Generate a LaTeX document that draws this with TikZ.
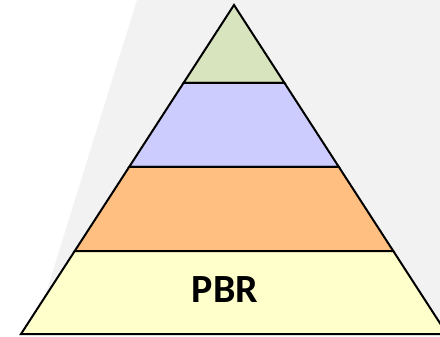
\documentclass[tikz,border=0pt]{standalone}
\usepackage{fontspec}
\setmainfont{Carlito}
\usetikzlibrary{calc}

\definecolor{bgGrey}{HTML}{F2F2F2}
\definecolor{topGreen}{HTML}{D7E4BD}
\definecolor{midBlue}{HTML}{CCCCFF}
\definecolor{lowOrange}{HTML}{FFBF80}
\definecolor{baseYellow}{HTML}{FFFFCC}

\begin{document}
\begin{tikzpicture}[x=1pt,y=-1pt,layer/.style={draw=black,line width=2pt,line join=miter}]

\useasboundingbox (0,0) rectangle (440,337);
\clip (0,0) rectangle (440,337);

\fill [bgGrey] (137,0) -- (440,0) -- (440,335) -- (33,335) -- cycle;

\coordinate (apex) at (234,5);
\coordinate (bl) at (21,334);
\coordinate (br) at (447,334);

\foreach \t [count=\i] in {0,0.237,0.492,0.748,1} {
	\coordinate (l\i) at ($(apex)!\t!(bl)$);
	\coordinate (r\i) at ($(apex)!\t!(br)$);
}

\foreach \i/\c in {1/topGreen,2/midBlue,3/lowOrange,4/baseYellow} {
	\pgfmathtruncatemacro{\j}{\i + 1};
	\filldraw [layer,fill=\c] (l\i) -- (l\j) -- (r\j) -- (r\i) -- cycle;
}

\node (pbr) at (225,290) {\fontsize{40}{48}\selectfont\bfseries PBR};

\end{tikzpicture}
\end{document}
